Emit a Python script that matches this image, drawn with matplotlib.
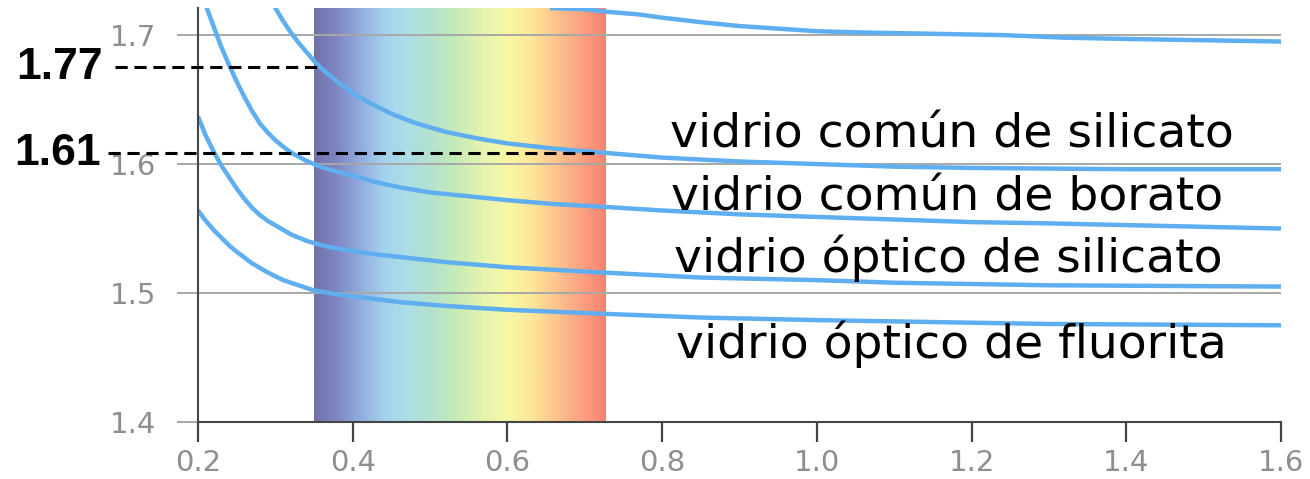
import numpy as np
import matplotlib
matplotlib.use("Agg")
import matplotlib.pyplot as plt
from matplotlib.colors import LinearSegmentedColormap

# ---------------- data ----------------
top_x = [0.655, 0.70, 0.73, 0.77, 0.80, 0.85, 0.90, 0.95, 1.00, 1.06, 1.15, 1.24, 1.32, 1.40, 1.50, 1.60]
top_y = [1.721, 1.720, 1.718, 1.716, 1.7135, 1.710, 1.707, 1.705, 1.703, 1.702, 1.701, 1.700, 1.698, 1.697, 1.696, 1.695]

silicato_comun_x = [0.295, 0.30, 0.31, 0.32, 0.33, 0.34, 0.35, 0.36, 0.38, 0.40, 0.42, 0.45, 0.48,
                    0.52, 0.56, 0.60, 0.66, 0.72, 0.80, 0.90, 1.00, 1.10, 1.20, 1.40, 1.60]
silicato_comun_y = [1.727, 1.721, 1.711, 1.702, 1.694, 1.687, 1.680, 1.674, 1.664, 1.655, 1.648, 1.639, 1.632,
                    1.625, 1.620, 1.616, 1.612, 1.609, 1.605, 1.602, 1.600, 1.598, 1.597, 1.596, 1.596]

borato_comun_x = [0.205, 0.21, 0.22, 0.23, 0.24, 0.25, 0.26, 0.27, 0.28, 0.29, 0.30, 0.31, 0.32, 0.34, 0.36,
                  0.38, 0.40, 0.43, 0.46, 0.50, 0.55, 0.60, 0.66, 0.72, 0.80, 0.90, 1.00, 1.10, 1.20, 1.30,
                  1.45, 1.60]
borato_comun_y = [1.732, 1.723, 1.707, 1.691, 1.677, 1.664, 1.652, 1.641, 1.6315, 1.6245, 1.6185, 1.6135, 1.609,
                  1.6025, 1.5975, 1.594, 1.591, 1.586, 1.582, 1.578, 1.575, 1.572, 1.569, 1.567, 1.564, 1.561,
                  1.559, 1.557, 1.555, 1.554, 1.552, 1.550]

silicato_optico_x = [0.20, 0.21, 0.22, 0.23, 0.24, 0.25, 0.26, 0.27, 0.28, 0.29, 0.30, 0.32, 0.34, 0.36,
                     0.38, 0.40, 0.43, 0.46, 0.52, 0.60, 0.72, 0.85, 1.00, 1.10, 1.30, 1.60]
silicato_optico_y = [1.637, 1.622, 1.610, 1.599, 1.590, 1.581, 1.573, 1.566, 1.5605, 1.556, 1.5525, 1.5455,
                     1.5405, 1.537, 1.5345, 1.5325, 1.530, 1.528, 1.524, 1.520, 1.516, 1.512, 1.510, 1.508,
                     1.506, 1.505]

fluorita_x = [0.20, 0.21, 0.22, 0.23, 0.24, 0.25, 0.27, 0.29, 0.31, 0.33, 0.35, 0.38, 0.42, 0.46,
              0.52, 0.60, 0.72, 0.85, 1.00, 1.10, 1.30, 1.60]
fluorita_y = [1.564, 1.556, 1.549, 1.543, 1.537, 1.532, 1.523, 1.516, 1.510, 1.506, 1.502, 1.499, 1.496, 1.493,
              1.490, 1.487, 1.484, 1.481, 1.479, 1.478, 1.476, 1.475]

series_labels = ["vidrio común de silicato", "vidrio común de borato",
                 "vidrio óptico de silicato", "vidrio óptico de fluorita"]

x_ticks = [0.2, 0.4, 0.6, 0.8, 1.0, 1.2, 1.4, 1.6]
x_tick_labels = ["0.2", "0.4", "0.6", "0.8", "1.0", "1.2", "1.4", "1.6"]
y_ticks = [1.4, 1.5, 1.6, 1.7]
y_tick_labels = ["1.4", "1.5", "1.6", "1.7"]

annot_labels = ["1.77", "1.61"]
annot_y = [1.675, 1.6085]
annot_x_start = [0.093, 0.084]
annot_x_end = [0.358, 0.72]

spectrum_start = 0.35
spectrum_end = 0.727
spectrum_stops = [0.35, 0.38, 0.41, 0.44, 0.47, 0.50, 0.53, 0.57, 0.60, 0.63, 0.66, 0.69, 0.72, 0.727]
spectrum_colors = ["#7272aa", "#8088c4", "#92aedf", "#a4d2ef", "#acdee6", "#b4e2d0",
                   "#c4eab8", "#e6f4ae", "#f8f8a6", "#fde89a", "#fdc88e", "#fca884",
                   "#f98a74", "#f8806e"]

xmin, xmax = 0.2, 1.6
ymin, ymax = 1.4, 1.721

# ---------------- figure ----------------
W, H = 1310, 479
fig = plt.figure(figsize=(W / 100, H / 100), dpi=100)
ax = fig.add_axes([198 / W, 57 / H, 1083 / W, 414 / H])

# spectrum band
pos = [(s - spectrum_stops[0]) / (spectrum_stops[-1] - spectrum_stops[0]) for s in spectrum_stops]
cmap = LinearSegmentedColormap.from_list("spec", list(zip(pos, spectrum_colors)))
grad = np.linspace(0, 1, 600)[None, :]
ax.imshow(grad, cmap=cmap, extent=[spectrum_start, spectrum_end, ymin, ymax],
          aspect="auto", zorder=0, interpolation="bilinear")

# curves
curve_color = "#5eaef0"
for xs, ys in [(top_x, top_y), (silicato_comun_x, silicato_comun_y),
               (borato_comun_x, borato_comun_y), (silicato_optico_x, silicato_optico_y),
               (fluorita_x, fluorita_y)]:
    ax.plot(xs, ys, color=curve_color, lw=3.2, solid_capstyle="butt",
            solid_joinstyle="round", zorder=2)

ax.set_xlim(xmin, xmax)
ax.set_ylim(ymin, ymax)

# grid / ticks
ax.set_xticks(x_ticks)
ax.set_xticklabels(x_tick_labels)
ax.set_yticks(y_ticks)
ax.set_yticklabels(y_tick_labels)
ax.yaxis.grid(True, color="#a8a8a8", lw=1.4, zorder=1)
ax.xaxis.grid(False)

for side in ["top", "right"]:
    ax.spines[side].set_visible(False)
for side in ["left", "bottom"]:
    ax.spines[side].set_color("#454545")
    ax.spines[side].set_linewidth(1.5)

ax.tick_params(axis="y", length=15, width=1.4, color="#a8a8a8", pad=15,
               labelsize=21, labelcolor="#8e8e8e")
ax.tick_params(axis="x", length=14.5, width=1.6, color="#454545", pad=5,
               labelsize=21, labelcolor="#8e8e8e")

# series labels
label_x = [0.810, 0.812, 0.815, 0.818]
label_y = [1.613, 1.564, 1.516, 1.450]
for t, lx, ly in zip(series_labels, label_x, label_y):
    ax.text(lx, ly, t, fontsize=34, color="black", family="DejaVu Sans",
            va="baseline", ha="left", zorder=5)

# annotations
annot_text_x = [0.0772, 0.0745]
for lab, y, x0, x1, tx in zip(annot_labels, annot_y, annot_x_start, annot_x_end, annot_text_x):
    ax.plot([x0, x1], [y, y], color="black", lw=2.2, ls=(0, (4, 2.2)),
            clip_on=False, zorder=4)
    ax.text(tx, y, lab, fontsize=32, fontweight="bold",
            family="Liberation Sans", ha="right", va="center", zorder=5)

fig.savefig("out.png", dpi=100)
